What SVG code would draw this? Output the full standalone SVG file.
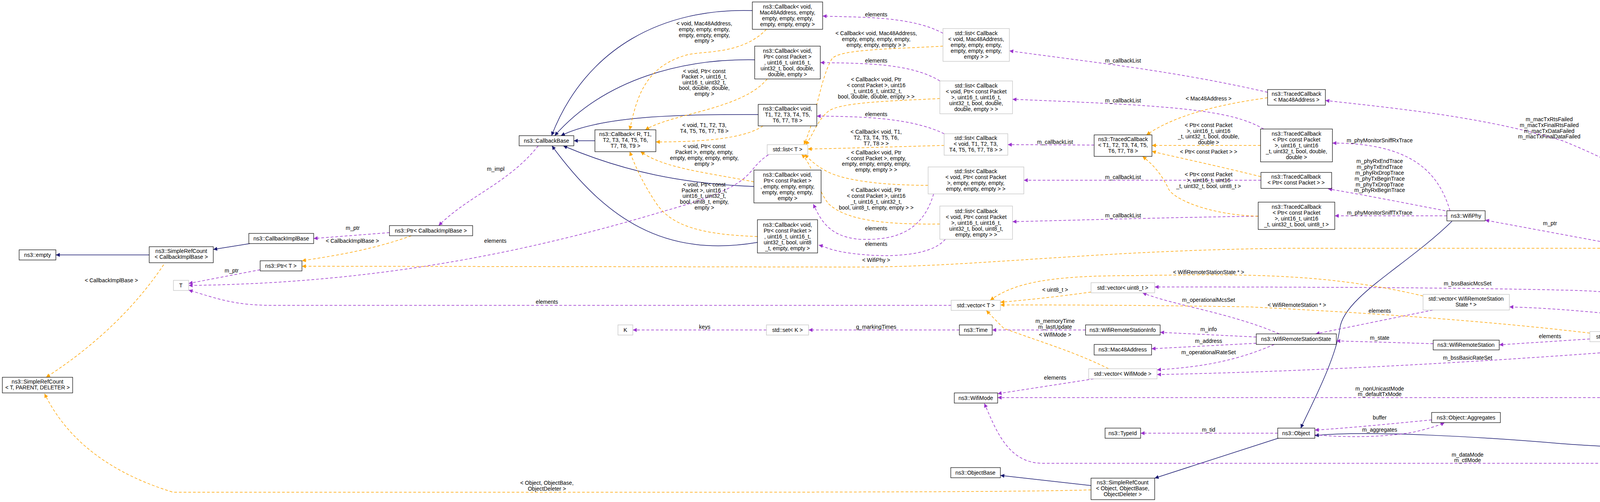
<svg xmlns="http://www.w3.org/2000/svg" width="4944" height="1284" viewBox="0 0 4944 1284">
<style>
text{font-family:"Liberation Sans",Arial,sans-serif;font-size:14px;fill:#000}
.n text,.lbl{text-anchor:middle}
.n rect{fill:#fff;stroke:#000;stroke-width:1.2}
.g rect{stroke:#bfbfbf}
.sel rect{fill:#bfbfbf}
.inh{fill:none;stroke:#191970;stroke-width:1.5;marker-end:url(#aN)}
.use{fill:none;stroke:#9a32cd;stroke-width:1.5;stroke-dasharray:7,5;marker-end:url(#aP)}
.tpl{fill:none;stroke:#ffa500;stroke-width:1.5;stroke-dasharray:7,5;marker-end:url(#aO)}
</style>
<defs>
<marker id="aN" viewBox="0 0 10 10" refX="10" refY="5" markerWidth="14" markerHeight="10" markerUnits="userSpaceOnUse" orient="auto"><path d="M0,0L10,5L0,10z" fill="#191970"/></marker>
<marker id="aP" viewBox="0 0 10 10" refX="10" refY="5" markerWidth="14" markerHeight="10" markerUnits="userSpaceOnUse" orient="auto"><path d="M0,0L10,5L0,10z" fill="#9a32cd"/></marker>
<marker id="aO" viewBox="0 0 10 10" refX="10" refY="5" markerWidth="14" markerHeight="10" markerUnits="userSpaceOnUse" orient="auto"><path d="M0,0L10,5L0,10z" fill="#ffa500"/></marker>
</defs>
<rect width="4944" height="1284" fill="#fff"/>
<g id="connectors">
<!-- inheritance -->
<path class="inh" d="M1523,360 L1469,360"/>
<path class="inh" d="M1926,27 C1700,20 1500,120 1412,347"/>
<path class="inh" d="M1932,153 C1750,150 1550,200 1420,347"/>
<path class="inh" d="M1941,293 C1800,293 1550,290 1436,347"/>
<path class="inh" d="M1930,477 C1750,470 1600,440 1442,373"/>
<path class="inh" d="M1939,620 C1700,660 1550,560 1413,373"/>
<path class="inh" d="M382,652 L143,652"/>
<path class="inh" d="M640,623 L546,638"/>
<path class="inh" d="M3717,566 C3600,680 3440,760 3430,840 C3420,920 3350,1050 3330,1095"/>
<path class="inh" d="M4548,874 C4520,980 4480,1030 4420,1070 C4300,1160 4150,1145 4000,1135 C3800,1118 3500,1100 3366,1114"/>
<path class="inh" d="M4812,1083 L4576,874"/>
<path class="inh" d="M3275,1120 L2956,1223"/>
<path class="inh" d="M2793,1242 L2561,1216"/>
<!-- usage -->
<path class="use" d="M997,595 L803,610"/>
<text x="903" y="588" class="lbl">m_ptr</text>
<path class="use" d="M1378,373 C1300,470 1200,500 1123,577"/>
<text x="1269" y="437" class="lbl">m_impl</text>
<path class="use" d="M666,690 L483,725"/>
<text x="593" y="697" class="lbl">m_ptr</text>
<path class="use" d="M1967,396 C1900,440 1950,470 1700,540 C1400,630 1000,725 483,730"/>
<text x="1268" y="621" class="lbl">elements</text>
<path class="use" d="M2435,781 L700,781 C600,781 560,765 483,742"/>
<text x="1400" y="777" class="lbl">elements</text>
<path class="use" d="M2414,85 C2330,40 2200,45 2106,41"/>
<text x="2243" y="42" class="lbl">elements</text>
<path class="use" d="M2406,207 C2330,160 2200,162 2100,160"/>
<text x="2243" y="160" class="lbl">elements</text>
<path class="use" d="M2417,342 C2330,300 2200,298 2091,297"/>
<text x="2243" y="297" class="lbl">elements</text>
<path class="use" d="M2390,496 C2360,600 2280,615 2200,612 C2120,605 2100,560 2082,522"/>
<text x="2243" y="589" class="lbl">elements</text>
<path class="use" d="M2420,612 C2380,660 2250,660 2160,645 C2120,638 2110,630 2096,627"/>
<text x="2243" y="629" class="lbl">elements</text>
<path class="use" d="M3245,236 C3000,180 2800,160 2584,130"/>
<text x="2875" y="160" class="lbl">m_callbackList</text>
<path class="use" d="M3235,330 C3150,280 3000,270 2592,254"/>
<text x="2875" y="262" class="lbl">m_callbackList</text>
<path class="use" d="M2801,371 L2580,370"/>
<text x="2701" y="368" class="lbl">m_callbackList</text>
<path class="use" d="M3228,461 L2621,461"/>
<text x="2875" y="458" class="lbl">m_callbackList</text>
<path class="use" d="M3221,553 C3000,556 2800,562 2592,567"/>
<text x="2875" y="556" class="lbl">m_callbackList</text>
<path class="use" d="M3712,539 C3680,430 3600,366 3411,366"/>
<text x="3532" y="364" class="lbl">m_phyMonitorSniffRxTrace</text>
<path class="use" d="M3700,539 C3600,520 3500,500 3400,483"/>
<text x="3532" y="417" class="lbl">m_phyRxEndTrace</text>
<text x="3532" y="432" class="lbl">m_phyTxEndTrace</text>
<text x="3532" y="447" class="lbl">m_phyRxDropTrace</text>
<text x="3532" y="462" class="lbl">m_phyTxBeginTrace</text>
<text x="3532" y="477" class="lbl">m_phyTxDropTrace</text>
<text x="3532" y="491" class="lbl">m_phyRxBeginTrace</text>
<path class="use" d="M3704,552 L3417,552"/>
<text x="3532" y="549" class="lbl">m_phyMonitorSniffTxTrace</text>
<path class="use" d="M4120,622 L3802,563"/>
<text x="3968" y="576" class="lbl">m_ptr</text>
<path class="use" d="M4540,848 C4500,700 4420,640 4266,635"/>
<text x="4382" y="636" class="lbl">m_wifiPhy</text>
<path class="use" d="M4550,848 C4480,650 4300,480 4000,360 C3800,300 3600,280 3393,257"/>
<text x="3966" y="310" class="lbl">m_macTxRtsFailed</text>
<text x="3966" y="325" class="lbl">m_macTxFinalRtsFailed</text>
<text x="3966" y="340" class="lbl">m_macTxDataFailed</text>
<text x="3966" y="354" class="lbl">m_macTxFinalDataFailed</text>
<path class="use" d="M4515,848 C4400,780 4200,745 4000,742 C3700,735 3300,734 2956,734"/>
<text x="3757" y="730" class="lbl">m_bssBasicMcsSet</text>
<path class="use" d="M4470,848 C4300,820 4050,790 3864,785"/>
<text x="4194" y="800" class="lbl">m_states</text>
<path class="use" d="M4443,861 L4316,861"/>
<text x="4381" y="858" class="lbl">m_stations</text>
<path class="use" d="M4443,874 C4000,915 3400,950 2962,958"/>
<text x="3757" y="920" class="lbl">m_bssBasicRateSet</text>
<path class="use" d="M4535,874 C4450,980 4300,1017 4200,1017 L2554,1017"/>
<text x="3532" y="999" class="lbl">m_nonUnicastMode</text>
<text x="3532" y="1013" class="lbl">m_defaultTxMode</text>
<path class="use" d="M4070,867 L3838,882"/>
<text x="3968" y="865" class="lbl">elements</text>
<path class="use" d="M3668,793 L3368,854"/>
<text x="3532" y="800" class="lbl">elements</text>
<path class="use" d="M3669,879 L3421,872"/>
<text x="3532" y="869" class="lbl">m_state</text>
<path class="use" d="M3275,854 C3150,800 3000,780 2925,749"/>
<text x="3094" y="772" class="lbl">m_operationalMcsSet</text>
<path class="use" d="M3216,862 L2970,850"/>
<text x="3094" y="847" class="lbl">m_info</text>
<path class="use" d="M3216,878 L2948,892"/>
<text x="3094" y="877" class="lbl">m_address</text>
<path class="use" d="M3262,881 C3150,930 3050,940 2962,946"/>
<text x="3094" y="906" class="lbl">m_operationalRateSet</text>
<path class="use" d="M2779,844 L2540,844"/>
<text x="2701" y="826" class="lbl">m_memoryTime</text>
<text x="2701" y="841" class="lbl">m_lastUpdate</text>
<path class="use" d="M2800,969 L2554,1007"/>
<text x="2701" y="971" class="lbl">elements</text>
<path class="use" d="M2456,844 L2070,844"/>
<text x="2243" y="841" class="lbl">g_markingTimes</text>
<path class="use" d="M1962,844 L1620,844"/>
<text x="1804" y="841" class="lbl">keys</text>
<path class="use" d="M3271,1108 L2920,1108"/>
<text x="3094" y="1104" class="lbl">m_tid</text>
<path class="use" d="M3665,1074 C3550,1085 3450,1095 3366,1100"/>
<text x="3532" y="1073" class="lbl">buffer</text>
<path class="use" d="M3366,1112 C3450,1120 3550,1118 3620,1105 C3650,1098 3680,1090 3698,1081"/>
<text x="3532" y="1104" class="lbl">m_aggregates</text>
<path class="use" d="M4805,1108 C4760,1150 4680,1185 4580,1185 L2670,1185 C2580,1185 2550,1100 2520,1032"/>
<text x="3757" y="1168" class="lbl">m_dataMode</text>
<text x="3757" y="1182" class="lbl">m_ctlMode</text>
<!-- template -->
<path class="tpl" d="M1962,75 C1900,140 1800,130 1760,140 C1650,170 1630,250 1612,332"/>
<text x="1803" y="65" class="lbl">&lt; void, Mac48Address,</text>
<text x="1803" y="80" class="lbl">empty, empty, empty,</text>
<text x="1803" y="95" class="lbl">empty, empty, empty,</text>
<text x="1803" y="109" class="lbl">empty &gt;</text>
<path class="tpl" d="M1964,202 C1900,280 1720,290 1652,332"/>
<text x="1803" y="187" class="lbl">&lt; void, Ptr&lt; const</text>
<text x="1803" y="201" class="lbl">Packet &gt;, uint16_t,</text>
<text x="1803" y="216" class="lbl">uint16_t, uint32_t,</text>
<text x="1803" y="230" class="lbl">bool, double, double,</text>
<text x="1803" y="245" class="lbl">empty &gt;</text>
<path class="tpl" d="M1953,322 C1900,360 1760,363 1679,363"/>
<text x="1803" y="325" class="lbl">&lt; void, T1, T2, T3,</text>
<text x="1803" y="340" class="lbl">T4, T5, T6, T7, T8 &gt;</text>
<path class="tpl" d="M1930,465 C1800,440 1700,430 1640,388"/>
<text x="1803" y="379" class="lbl">&lt; void, Ptr&lt; const</text>
<text x="1803" y="394" class="lbl">Packet &gt;, empty, empty,</text>
<text x="1803" y="409" class="lbl">empty, empty, empty, empty,</text>
<text x="1803" y="424" class="lbl">empty &gt;</text>
<path class="tpl" d="M1939,605 C1800,600 1720,580 1680,520 C1640,460 1625,420 1612,388"/>
<text x="1803" y="477" class="lbl">&lt; void, Ptr&lt; const</text>
<text x="1803" y="492" class="lbl">Packet &gt;, uint16_t,</text>
<text x="1803" y="506" class="lbl">uint16_t, uint32_t,</text>
<text x="1803" y="521" class="lbl">bool, uint8_t, empty,</text>
<text x="1803" y="536" class="lbl">empty &gt;</text>
<path class="tpl" d="M2414,118 C2300,125 2150,125 2130,150 C2100,200 2090,300 2058,370"/>
<text x="2243" y="90" class="lbl">&lt; Callback&lt; void, Mac48Address,</text>
<text x="2243" y="105" class="lbl">empty, empty, empty, empty,</text>
<text x="2243" y="120" class="lbl">empty, empty, empty &gt; &gt;</text>
<path class="tpl" d="M2406,252 C2300,258 2150,260 2120,285 C2090,310 2080,350 2062,370"/>
<text x="2243" y="208" class="lbl">&lt; Callback&lt; void, Ptr</text>
<text x="2243" y="223" class="lbl">&lt; const Packet &gt;, uint16</text>
<text x="2243" y="238" class="lbl">_t, uint16_t, uint32_t,</text>
<text x="2243" y="252" class="lbl">bool, double, double, empty &gt; &gt;</text>
<path class="tpl" d="M2417,372 C2300,375 2150,380 2068,381"/>
<text x="2243" y="342" class="lbl">&lt; Callback&lt; void, T1,</text>
<text x="2243" y="357" class="lbl">T2, T3, T4, T5, T6,</text>
<text x="2243" y="372" class="lbl">T7, T8 &gt; &gt;</text>
<path class="tpl" d="M2376,474 C2250,474 2160,460 2120,440 C2090,425 2075,410 2060,395"/>
<text x="2243" y="395" class="lbl">&lt; Callback&lt; void, Ptr</text>
<text x="2243" y="410" class="lbl">&lt; const Packet &gt;, empty,</text>
<text x="2243" y="424" class="lbl">empty, empty, empty, empty,</text>
<text x="2243" y="439" class="lbl">empty, empty &gt; &gt;</text>
<path class="tpl" d="M2406,573 C2250,575 2160,560 2120,520 C2090,480 2080,420 2052,395"/>
<text x="2243" y="491" class="lbl">&lt; Callback&lt; void, Ptr</text>
<text x="2243" y="506" class="lbl">&lt; const Packet &gt;, uint16</text>
<text x="2243" y="521" class="lbl">_t, uint16_t, uint32_t,</text>
<text x="2243" y="536" class="lbl">bool, uint8_t, empty, empty &gt; &gt;</text>
<path class="tpl" d="M1053,603 C950,640 850,655 773,667"/>
<text x="902" y="621" class="lbl">&lt; CallbackImplBase &gt;</text>
<path class="tpl" d="M419,677 C350,780 250,880 118,965"/>
<text x="285" y="722" class="lbl">&lt; CallbackImplBase &gt;</text>
<path class="tpl" d="M4120,635 L3300,635 C2800,640 2500,683 2200,683 L773,681"/>
<text x="2243" y="670" class="lbl">&lt; WifiPhy &gt;</text>
<path class="tpl" d="M3245,250 C3100,270 3000,300 2935,345"/>
<text x="3094" y="257" class="lbl">&lt; Mac48Address &gt;</text>
<path class="tpl" d="M3227,372 L2949,372"/>
<text x="3094" y="325" class="lbl">&lt; Ptr&lt; const Packet</text>
<text x="3094" y="340" class="lbl">&gt;, uint16_t, uint16</text>
<text x="3094" y="354" class="lbl">_t, uint32_t, bool, double,</text>
<text x="3094" y="369" class="lbl">double &gt;</text>
<path class="tpl" d="M3228,452 C3100,420 3000,400 2949,387"/>
<text x="3094" y="393" class="lbl">&lt; Ptr&lt; const Packet &gt; &gt;</text>
<path class="tpl" d="M3221,553 C3100,550 3000,510 2990,480 C2970,440 2950,420 2925,400"/>
<text x="3094" y="451" class="lbl">&lt; Ptr&lt; const Packet</text>
<text x="3094" y="466" class="lbl">&gt;, uint16_t, uint16</text>
<text x="3094" y="481" class="lbl">_t, uint32_t, bool, uint8_t &gt;</text>
<path class="tpl" d="M2793,747 C2700,760 2620,768 2561,773"/>
<text x="2701" y="746" class="lbl">&lt; uint8_t &gt;</text>
<path class="tpl" d="M3643,757 C3400,700 3200,700 2900,705 C2700,705 2600,720 2535,768"/>
<text x="3094" y="701" class="lbl">&lt; WifiRemoteStationState * &gt;</text>
<path class="tpl" d="M4070,852 C3800,820 3500,800 3200,785 C2900,780 2700,780 2561,780"/>
<text x="3320" y="785" class="lbl">&lt; WifiRemoteStation * &gt;</text>
<path class="tpl" d="M2838,943 C2750,900 2680,880 2570,840 C2550,820 2540,810 2525,794"/>
<text x="2701" y="861" class="lbl">&lt; WifiMode &gt;</text>
<path class="tpl" d="M2793,1253 C2600,1259 2000,1259 1400,1259 L443,1259 C250,1200 160,1100 114,1007"/>
<text x="1400" y="1240" class="lbl">&lt; Object, ObjectBase,</text>
<text x="1400" y="1255" class="lbl">ObjectDeleter &gt;</text>
</g>
<g id="n1" class="n sel"><rect x="4721" y="1083" width="217" height="26"/><text x="4829" y="1101">ns3::ConstantRateWifiManager</text></g>
<g id="n2" class="n"><rect x="4443" y="848" width="225" height="26"/><text x="4555" y="866">ns3::WifiRemoteStationManager</text></g>
<g id="n3" class="n"><rect x="3271" y="1095" width="95" height="26"/><text x="3318" y="1113">ns3::Object</text></g>
<g id="n4" class="n"><rect x="2793" y="1223" width="163" height="55"/><text x="2874" y="1239">ns3::SimpleRefCount</text><text x="2874" y="1254">&lt; Object, ObjectBase,</text><text x="2874" y="1269">ObjectDeleter &gt;</text></g>
<g id="n5" class="n"><rect x="2434" y="1196" width="127" height="26"/><text x="2497" y="1214">ns3::ObjectBase</text></g>
<g id="n6" class="n"><rect x="2829" y="1095" width="91" height="26"/><text x="2874" y="1113">ns3::TypeId</text></g>
<g id="n7" class="n"><rect x="3665" y="1055" width="176" height="26"/><text x="3753" y="1073">ns3::Object::Aggregates</text></g>
<g id="n8" class="n"><rect x="2443" y="1005" width="111" height="26"/><text x="2498" y="1023">ns3::WifiMode</text></g>
<g id="n9" class="n g"><rect x="2787" y="943" width="175" height="26"/><text x="2874" y="961">std::vector&lt; WifiMode &gt;</text></g>
<g id="n10" class="n"><rect x="3216" y="854" width="205" height="27"/><text x="3318" y="872">ns3::WifiRemoteStationState</text></g>
<g id="n11" class="n"><rect x="2801" y="881" width="147" height="27"/><text x="2874" y="899">ns3::Mac48Address</text></g>
<g id="n12" class="n"><rect x="2779" y="831" width="191" height="26"/><text x="2874" y="849">ns3::WifiRemoteStationInfo</text></g>
<g id="n13" class="n"><rect x="2456" y="831" width="84" height="26"/><text x="2498" y="849">ns3::Time</text></g>
<g id="n14" class="n g"><rect x="1962" y="831" width="108" height="26"/><text x="2016" y="849">std::set&lt; K &gt;</text></g>
<g id="n15" class="n g"><rect x="1582" y="831" width="38" height="26"/><text x="1601" y="849">K</text></g>
<g id="n16" class="n g"><rect x="2793" y="723" width="163" height="26"/><text x="2874" y="741">std::vector&lt; uint8_t &gt;</text></g>
<g id="n17" class="n g"><rect x="2435" y="768" width="126" height="26"/><text x="2498" y="786">std::vector&lt; T &gt;</text></g>
<g id="n18" class="n g"><rect x="3643" y="753" width="221" height="40"/><text x="3753" y="769">std::vector&lt; WifiRemoteStation</text><text x="3753" y="784">State * &gt;</text></g>
<g id="n19" class="n"><rect x="3669" y="870" width="169" height="25"/><text x="3753" y="887">ns3::WifiRemoteStation</text></g>
<g id="n20" class="n g"><rect x="4070" y="848" width="246" height="26"/><text x="4193" y="866">std::vector&lt; WifiRemoteStation * &gt;</text></g>
<g id="n21" class="n"><rect x="4120" y="622" width="146" height="26"/><text x="4193" y="640">ns3::Ptr&lt; WifiPhy &gt;</text></g>
<g id="n22" class="n"><rect x="3704" y="539" width="98" height="26"/><text x="3753" y="557">ns3::WifiPhy</text></g>
<g id="n23" class="n"><rect x="3245" y="229" width="148" height="40"/><text x="3319" y="245">ns3::TracedCallback</text><text x="3319" y="260">&lt; Mac48Address &gt;</text></g>
<g id="n24" class="n"><rect x="2801" y="345" width="148" height="55"/><text x="2875" y="361">ns3::TracedCallback</text><text x="2875" y="376">&lt; T1, T2, T3, T4, T5,</text><text x="2875" y="391">T6, T7, T8 &gt;</text></g>
<g id="n25" class="n"><rect x="3227" y="330" width="184" height="84"/><text x="3319" y="347">ns3::TracedCallback</text><text x="3319" y="362">&lt; Ptr&lt; const Packet</text><text x="3319" y="377">&gt;, uint16_t, uint16</text><text x="3319" y="392">_t, uint32_t, bool, double,</text><text x="3319" y="407">double &gt;</text></g>
<g id="n26" class="n"><rect x="3228" y="441" width="181" height="41"/><text x="3318" y="457">ns3::TracedCallback</text><text x="3318" y="472">&lt; Ptr&lt; const Packet &gt; &gt;</text></g>
<g id="n27" class="n"><rect x="3221" y="517" width="196" height="70"/><text x="3319" y="534">ns3::TracedCallback</text><text x="3319" y="549">&lt; Ptr&lt; const Packet</text><text x="3319" y="564">&gt;, uint16_t, uint16</text><text x="3319" y="579">_t, uint32_t, bool, uint8_t &gt;</text></g>
<g id="n28" class="n g"><rect x="2414" y="73" width="170" height="84"/><text x="2499" y="90">std::list&lt; Callback</text><text x="2499" y="105">&lt; void, Mac48Address,</text><text x="2499" y="120">empty, empty, empty,</text><text x="2499" y="135">empty, empty, empty,</text><text x="2499" y="150">empty &gt; &gt;</text></g>
<g id="n29" class="n g"><rect x="2406" y="207" width="186" height="84"/><text x="2499" y="224">std::list&lt; Callback</text><text x="2499" y="239">&lt; void, Ptr&lt; const Packet</text><text x="2499" y="254">&gt;, uint16_t, uint16_t,</text><text x="2499" y="269">uint32_t, bool, double,</text><text x="2499" y="284">double, empty &gt; &gt;</text></g>
<g id="n30" class="n g"><rect x="2417" y="342" width="163" height="55"/><text x="2498" y="358">std::list&lt; Callback</text><text x="2498" y="373">&lt; void, T1, T2, T3,</text><text x="2498" y="388">T4, T5, T6, T7, T8 &gt; &gt;</text></g>
<g id="n31" class="n g"><rect x="2376" y="427" width="245" height="69"/><text x="2498" y="443">std::list&lt; Callback</text><text x="2498" y="458">&lt; void, Ptr&lt; const Packet</text><text x="2498" y="473">&gt;, empty, empty, empty,</text><text x="2498" y="488">empty, empty, empty &gt; &gt;</text></g>
<g id="n32" class="n g"><rect x="2406" y="527" width="186" height="85"/><text x="2499" y="545">std::list&lt; Callback</text><text x="2499" y="560">&lt; void, Ptr&lt; const Packet</text><text x="2499" y="575">&gt;, uint16_t, uint16_t,</text><text x="2499" y="590">uint32_t, bool, uint8_t,</text><text x="2499" y="605">empty, empty &gt; &gt;</text></g>
<g id="n33" class="n g"><rect x="1964" y="370" width="104" height="25"/><text x="2016" y="387">std::list&lt; T &gt;</text></g>
<g id="n34" class="n"><rect x="1926" y="5" width="180" height="70"/><text x="2016" y="22">ns3::Callback&lt; void,</text><text x="2016" y="37">Mac48Address, empty,</text><text x="2016" y="52">empty, empty, empty,</text><text x="2016" y="67">empty, empty, empty &gt;</text></g>
<g id="n35" class="n"><rect x="1932" y="118" width="168" height="84"/><text x="2016" y="135">ns3::Callback&lt; void,</text><text x="2016" y="150">Ptr&lt; const Packet &gt;</text><text x="2016" y="165">, uint16_t, uint16_t,</text><text x="2016" y="180">uint32_t, bool, double,</text><text x="2016" y="195">double, empty &gt;</text></g>
<g id="n36" class="n"><rect x="1941" y="267" width="150" height="55"/><text x="2016" y="283">ns3::Callback&lt; void,</text><text x="2016" y="298">T1, T2, T3, T4, T5,</text><text x="2016" y="313">T6, T7, T8 &gt;</text></g>
<g id="n37" class="n"><rect x="1930" y="435" width="172" height="84"/><text x="2016" y="452">ns3::Callback&lt; void,</text><text x="2016" y="467">Ptr&lt; const Packet &gt;</text><text x="2016" y="482">, empty, empty, empty,</text><text x="2016" y="497">empty, empty, empty,</text><text x="2016" y="512">empty &gt;</text></g>
<g id="n38" class="n"><rect x="1939" y="562" width="154" height="85"/><text x="2016" y="580">ns3::Callback&lt; void,</text><text x="2016" y="595">Ptr&lt; const Packet &gt;</text><text x="2016" y="610">, uint16_t, uint16_t,</text><text x="2016" y="625">uint32_t, bool, uint8</text><text x="2016" y="640">_t, empty, empty &gt;</text></g>
<g id="n39" class="n"><rect x="1523" y="332" width="156" height="56"/><text x="1601" y="348">ns3::Callback&lt; R, T1,</text><text x="1601" y="363">T2, T3, T4, T5, T6,</text><text x="1601" y="378">T7, T8, T9 &gt;</text></g>
<g id="n40" class="n"><rect x="1329" y="347" width="140" height="26"/><text x="1399" y="365">ns3::CallbackBase</text></g>
<g id="n41" class="n"><rect x="997" y="577" width="213" height="26"/><text x="1103" y="595">ns3::Ptr&lt; CallbackImplBase &gt;</text></g>
<g id="n42" class="n"><rect x="637" y="597" width="166" height="26"/><text x="720" y="615">ns3::CallbackImplBase</text></g>
<g id="n43" class="n"><rect x="382" y="631" width="164" height="41"/><text x="464" y="647">ns3::SimpleRefCount</text><text x="464" y="662">&lt; CallbackImplBase &gt;</text></g>
<g id="n44" class="n"><rect x="49" y="639" width="94" height="26"/><text x="96" y="657">ns3::empty</text></g>
<g id="n45" class="n"><rect x="666" y="667" width="107" height="26"/><text x="719" y="685">ns3::Ptr&lt; T &gt;</text></g>
<g id="n46" class="n g"><rect x="444" y="717" width="39" height="26"/><text x="463" y="735">T</text></g>
<g id="n47" class="n"><rect x="6" y="965" width="180" height="40"/><text x="96" y="981">ns3::SimpleRefCount</text><text x="96" y="996">&lt; T, PARENT, DELETER &gt;</text></g>
</svg>
